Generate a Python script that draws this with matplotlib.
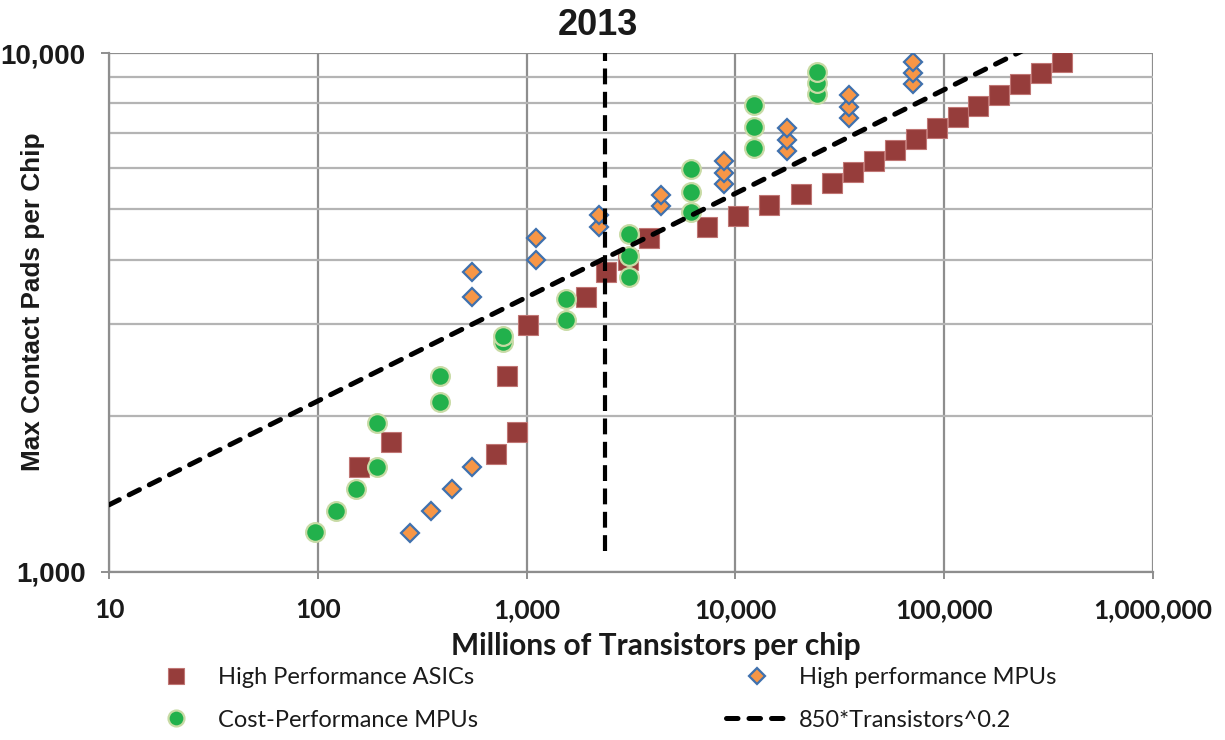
import matplotlib.pyplot as plt
import numpy as np
from matplotlib.ticker import FuncFormatter, LogLocator, NullFormatter

# High Performance ASICs (transistors in millions, max pads)
asic_x = [157, 223, 716, 899, 805, 1019, 1915, 2406, 3053, 3847, 7290, 10256,
          14549, 20522, 29020, 36700, 46240, 58300, 73200, 92270, 116300,
          145900, 183300, 231800, 291100, 367000]
asic_y = [1590, 1780, 1690, 1860, 2390, 2990, 3380, 3790, 3990, 4395, 4615, 4853,
          5089, 5343, 5610, 5890, 6194, 6504, 6829, 7161, 7518,
          7905, 8300, 8706, 9140, 9597]

# High performance MPUs
hp_x = [275, 347, 437, 550, 550, 550, 1104, 1104, 2210, 2210, 4410, 4410,
        8790, 8790, 8790, 17670, 17670, 17670, 35120, 35120, 35120,
        70500, 70500, 70500]
hp_y = [1190, 1313, 1443, 1591, 3393, 3790, 3991, 4395, 4628, 4875, 5079, 5327,
        5585, 5878, 6201, 6474, 6797, 7161, 7506, 7881, 8300,
        8706, 9140, 9597]

# Cost-Performance MPUs
cp_x = [97, 122, 153, 192, 192, 386, 386, 770, 770, 1549, 1549, 3085, 3085, 3085,
        6156, 6156, 6156, 12280, 12280, 12280, 24670, 24670, 24670]
cp_y = [1193, 1313, 1445, 1591, 1934, 2129, 2389, 2778, 2849, 3059, 3357, 3697,
        4069, 4480, 4932, 5405, 5970, 6570, 7211, 7940, 8337, 8744, 9203]

# trend line 850*T^0.2 and the 2013 marker
fit_coef = 850
fit_exp = 0.2
fit_x = [10, 1000000]
year_x = 2380
year_y = [1100, 10000]

fig = plt.figure(figsize=(12.25, 7.4), dpi=100)
ax = fig.add_axes([109 / 1225, 1 - 572 / 740, 1044 / 1225, 519 / 740])

ax.set_xscale('log')
ax.set_yscale('log')
ax.set_xlim(10, 1000000)
ax.set_ylim(1000, 10000)

h_asic, = ax.plot(asic_x, asic_y, 's', ms=14.2, color='#963D3B', mec='#C07674',
                  mew=0.8, ls='none', label='High Performance ASICs', zorder=3)
h_hp, = ax.plot(hp_x, hp_y, 'D', ms=9.6, color='#F79646', mec='#3F71AE',
                mew=1.6, ls='none', label='High performance MPUs', zorder=4)
h_cp, = ax.plot(cp_x, cp_y, 'o', ms=13.5, color='#22B14C', mec='#C8DBA5',
                mew=1.6, ls='none', label='Cost-Performance MPUs', zorder=5)

line_x = np.logspace(np.log10(fit_x[0]), np.log10(fit_x[1]), 200)
h_fit, = ax.plot(line_x, fit_coef * line_x ** fit_exp, color='black', lw=3.6,
                 dashes=(2.3, 2.2), dash_capstyle='round',
                 label='850*Transistors^0.2', zorder=6)
ax.plot([year_x, year_x], year_y, color='black', lw=3.0, dashes=(3.8, 1.8),
        zorder=6)

# grid: decades vertically, every thousand horizontally
ax.xaxis.set_major_locator(LogLocator(base=10, numticks=10))
ax.xaxis.set_minor_locator(LogLocator(base=10, subs=[], numticks=10))
ax.yaxis.set_major_locator(LogLocator(base=10, numticks=10))
ax.yaxis.set_minor_locator(LogLocator(base=10, subs=np.arange(2, 10), numticks=10))
ax.yaxis.set_minor_formatter(NullFormatter())
fmt = FuncFormatter(lambda v, p: '{:,.0f}'.format(v))
ax.xaxis.set_major_formatter(fmt)
ax.yaxis.set_major_formatter(fmt)

ax.grid(True, axis='x', which='major', color='#8E8E8E', lw=1.6)
ax.grid(True, axis='y', which='major', color='#8E8E8E', lw=1.6)
ax.grid(True, axis='y', which='minor', color='#B4B4B4', lw=1.6)
ax.set_axisbelow(True)

for side in ['top', 'right']:
    ax.spines[side].set_visible(False)
for side in ['left', 'bottom']:
    ax.spines[side].set_color('#8E8E8E')
    ax.spines[side].set_linewidth(1.6)

ax.tick_params(axis='y', which='major', length=6, width=1.4, color='#8E8E8E', pad=11)
ax.tick_params(axis='y', which='minor', length=0)
ax.tick_params(axis='x', which='major', length=5, width=1.4, color='#8E8E8E', pad=14)
ax.tick_params(axis='x', which='minor', length=0)

for lbl in ax.get_yticklabels():
    lbl.set_fontfamily('Liberation Sans')
    lbl.set_fontweight('bold')
    lbl.set_fontsize(20)
    lbl.set_color('#1A1A1A')
for lbl in ax.get_xticklabels():
    lbl.set_fontfamily('Lato')
    lbl.set_fontweight('bold')
    lbl.set_fontsize(19)
    lbl.set_color('#1A1A1A')

ax.set_title('2013', fontfamily='Liberation Sans', fontweight='bold', fontsize=26,
             color='#1A1A1A', pad=13, x=0.468)
ax.set_xlabel('Millions of Transistors per chip', fontfamily='Lato',
              fontweight='bold', fontsize=21.5, color='#1A1A1A')
ax.xaxis.set_label_coords(0.524, -0.115)
ax.set_ylabel('Max Contact Pads per Chip', fontfamily='Liberation Sans',
              fontweight='bold', fontsize=18.8, color='#1A1A1A')
ax.yaxis.set_label_coords(-0.061, 0.52)

leg = fig.legend([h_asic, h_cp, h_hp, h_fit],
                 ['High Performance ASICs', 'Cost-Performance MPUs',
                  'High performance MPUs', '850*Transistors^0.2'],
                 ncol=2, loc='upper left', bbox_to_anchor=(145 / 1225, 1 - 667 / 740),
                 frameon=False, prop={'family': 'Lato', 'size': 17},
                 handlelength=2.6, handletextpad=0.5, columnspacing=10.5,
                 labelspacing=0.92, markerscale=0.85, borderpad=0, borderaxespad=0)
for t in leg.get_texts():
    t.set_color('#1A1A1A')

fig.savefig('out.png', dpi=100)
